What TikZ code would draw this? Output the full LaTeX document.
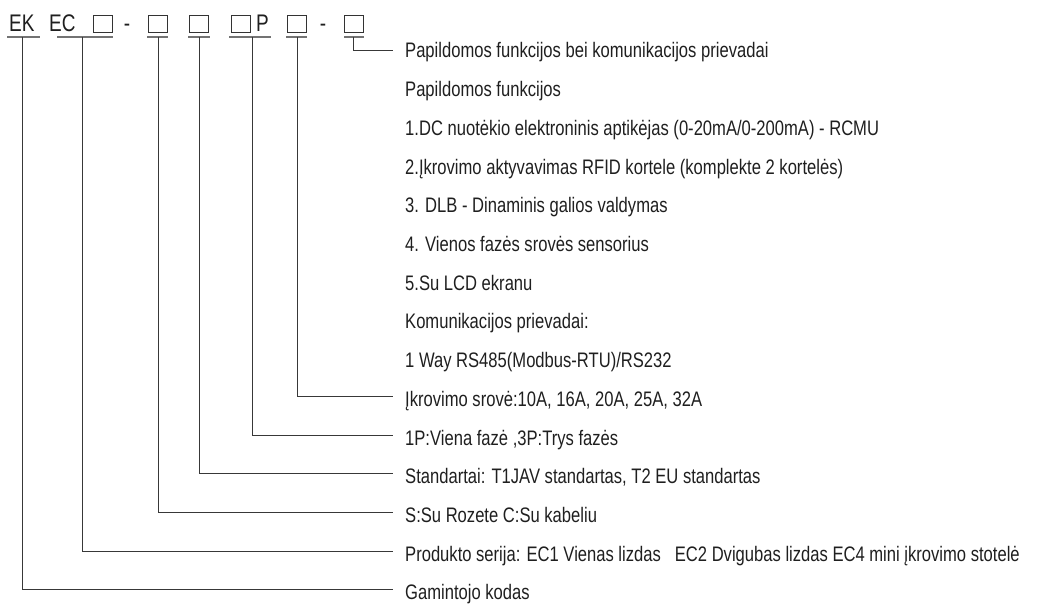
\documentclass[tikz,border=0pt]{standalone}
\usepackage{fontspec}
\setmainfont{Liberation Sans}[FakeStretch=0.79]
\begin{document}
\begin{tikzpicture}[x=1pt,y=-1pt,
  lbl/.style={anchor=base west,inner sep=0pt,text=black!88,font=\fontsize{21}{21}\selectfont},
  toptxt/.style={anchor=base west,inner sep=0pt,text=black!88,font=\fontsize{24}{24}\selectfont},
  sq/.style={draw=black!80,line width=0.9pt,minimum width=19pt,minimum height=17pt,inner sep=0pt},
  uline/.style={draw=black!55,line width=1.3pt},
  conn/.style={draw=black!78,line width=1pt}]
\useasboundingbox (0,0) rectangle (1037,604);
% top code
\node[toptxt] (ek) at (9,32) {EK};
\node[toptxt] (ec) at (49,32) {EC};
\node[sq] (b1) at (102.5,23.5) {};
\node[toptxt,anchor=base] (d1) at (127,32) {-};
\node[sq] (b2) at (157.5,23.5) {};
\node[sq] (b3) at (198.5,23.5) {};
\node[sq] (b4) at (241,23.5) {};
\node[toptxt] (p) at (256,32) {P};
\node[sq] (b5) at (297,23.5) {};
\node[toptxt,anchor=base] (d2) at (323,32) {-};
\node[sq] (b6) at (354,23.5) {};
% underlines
\draw[uline] (7,37) -- (40,37);
\draw[uline] (57,37) -- (113,37);
\draw[uline] (147,37) -- (168,37);
\draw[uline] (188,37) -- (210,37);
\draw[uline] (229,37) -- (271,37);
\draw[uline] (286,37) -- (307,37);
\draw[uline] (344,37) -- (364,37);
\coordinate (u1) at (22,37);
\coordinate (u2) at (82,37);
\coordinate (u3) at (158,37);
\coordinate (u4) at (199,37);
\coordinate (u5) at (252,37);
\coordinate (u6) at (297,37);
\coordinate (u7) at (353,37);
% labels
\node[lbl] (l1) at (405,58) {Papildomos funkcijos bei komunikacijos prievadai};
\node[lbl] (l2) at (405,96.7) {Papildomos funkcijos};
\node[lbl] (l3) at (405,135.4) {1.DC nuotėkio elektroninis aptikėjas (0-20mA/0-200mA) - RCMU};
\node[lbl] (l4) at (405,174.1) {2.Įkrovimo aktyvavimas RFID kortele (komplekte 2 kortelės)};
\node[lbl] (l5) at (405,212.8) {3. DLB - Dinaminis galios valdymas};
\node[lbl] (l6) at (405,251.5) {4. Vienos fazės srovės sensorius};
\node[lbl] (l7) at (405,290.2) {5.Su LCD ekranu};
\node[lbl] (l8) at (405,328.9) {Komunikacijos prievadai:};
\node[lbl] (l9) at (405,367.6) {1 Way RS485(Modbus-RTU)/RS232};
\node[lbl] (l10) at (405,406.3) {Įkrovimo srovė:10A, 16A, 20A, 25A, 32A};
\node[lbl] (l11) at (405,445) {1P:Viena fazė ,3P:Trys fazės};
\node[lbl] (l12) at (405,483.7) {Standartai: T1JAV standartas, T2 EU standartas};
\node[lbl] (l13) at (405,522.4) {S:Su Rozete C:Su kabeliu};
\node[lbl] (l14) at (405,561.1) {Produkto serija: EC1 Vienas lizdas\hspace{14pt}EC2 Dvigubas lizdas EC4 mini įkrovimo stotelė};
\node[lbl] (l15) at (405,599.8) {Gamintojo kodas};
% connector ends
\coordinate (e1) at (393,51);
\coordinate (e10) at (393,396.3);
\coordinate (e11) at (393,435);
\coordinate (e12) at (393,473.7);
\coordinate (e13) at (393,512.4);
\coordinate (e14) at (393,551.1);
\coordinate (e15) at (393,589.8);
\draw[conn] (u7) |- (e1);
\draw[conn] (u6) |- (e10);
\draw[conn] (u5) |- (e11);
\draw[conn] (u4) |- (e12);
\draw[conn] (u3) |- (e13);
\draw[conn] (u2) |- (e14);
\draw[conn] (u1) |- (e15);
\end{tikzpicture}
\end{document}
